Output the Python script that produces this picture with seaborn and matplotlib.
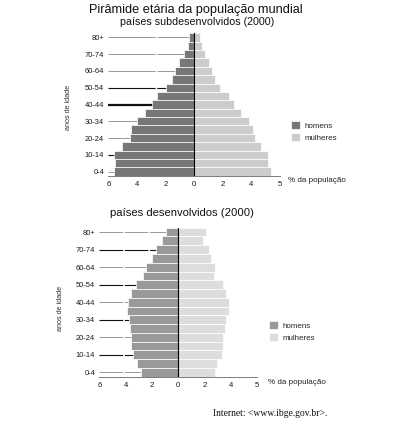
import matplotlib
matplotlib.use("Agg")
import matplotlib.pyplot as plt
import seaborn as sns
import pandas as pd

# ---------------- data ----------------
faixas = ["0-4", "5-9", "10-14", "15-19", "20-24", "25-29", "30-34", "35-39",
          "40-44", "45-49", "50-54", "55-59", "60-64", "65-69", "70-74", "75-79", "80+"]

# países subdesenvolvidos (2000), % da população
sub_homens = [5.59, 5.50, 5.57, 5.01, 4.50, 4.38, 3.96, 3.40, 2.91, 2.56,
              1.93, 1.56, 1.31, 1.05, 0.68, 0.40, 0.33]
sub_mulheres = [5.36, 5.17, 5.17, 4.69, 4.27, 4.13, 3.85, 3.29, 2.77, 2.45,
                1.82, 1.49, 1.26, 1.07, 0.79, 0.58, 0.42]

# países desenvolvidos (2000), % da população
des_homens = [2.84, 3.14, 3.44, 3.59, 3.59, 3.65, 3.75, 3.90, 3.82, 3.62,
              3.24, 2.66, 2.46, 2.03, 1.70, 1.24, 0.94]
des_mulheres = [2.76, 2.94, 3.32, 3.39, 3.39, 3.54, 3.62, 3.85, 3.83, 3.63,
                3.37, 2.71, 2.79, 2.46, 2.36, 1.85, 2.13]

sexos = ["homens", "mulheres"]
x_ticks = [-6, -4, -2, 0, 2, 4, 6]
x_ticklabels = ["6", "4", "2", "0", "2", "4", "5"]
faixas_rotuladas = ["80+", "70-74", "60-64", "50-54", "40-44", "30-34", "20-24", "10-14", "0-4"]

titulo = "Pirâmide etária da população mundial"
sub1 = "países subdesenvolvidos (2000)"
sub2 = "países desenvolvidos (2000)"
fonte = "Internet: <www.ibge.gov.br>."

# ---------------- style ----------------
sns.set_style("white")
plt.rcParams["font.family"] = ["Liberation Sans", "DejaVu Sans"]
plt.rcParams["lines.scale_dashes"] = False

W, H = 397, 429
fig = plt.figure(figsize=(W / 100, H / 100), dpi=100)


def px_axes(x0, y0, x1, y1):
    return fig.add_axes([x0 / W, 1 - y1 / H, (x1 - x0) / W, (y1 - y0) / H])


def pyramid(ax, homens, mulheres, cores, grid_cores, grid_lw, dash):
    df = pd.DataFrame({
        "idade": faixas * 2,
        "sexo": ["homens"] * len(faixas) + ["mulheres"] * len(faixas),
        "valor": [-v for v in homens] + list(mulheres),
    })
    order = faixas[::-1]
    sns.barplot(data=df, x="valor", y="idade", hue="sexo", order=order,
                hue_order=sexos, palette=cores, dodge=False, width=1.0,
                edgecolor="white", linewidth=0.5, errorbar=None, ax=ax,
                zorder=2)
    ax.set_ylim(len(order) - 0.5, -0.5)
    ax.set_xlim(-6, 6)
    pos = [order.index(f) for f in faixas_rotuladas]
    ax.hlines(pos, -6, 0, colors=grid_cores, linewidths=grid_lw,
              linestyles=[dash] * len(pos), zorder=1)
    ax.axvline(0, color="black", lw=0.8, zorder=3)
    ax.set_yticks(pos)
    ax.set_yticklabels(faixas_rotuladas, fontsize=5.4, color="#1a1a1a")
    ax.set_xticks(x_ticks)
    ax.set_xticklabels(x_ticklabels, fontsize=5.6, color="#1a1a1a")
    ax.tick_params(axis="y", length=0, pad=3)
    ax.tick_params(axis="x", length=2, width=0.5, color="#444444", pad=1.5)
    for s in ["top", "right", "left"]:
        ax.spines[s].set_visible(False)
    ax.spines["bottom"].set_color("#666666")
    ax.spines["bottom"].set_linewidth(0.6)
    ax.set_xlabel("")
    ax.set_ylabel("")
    ax.patch.set_alpha(0)
    leg = ax.get_legend()
    handles = leg.legend_handles
    leg.remove()
    return handles


# ---------------- top pyramid ----------------
ax1 = px_axes(108.3, 33.3, 279.7, 175.7)
g1 = ["#888888", "#888888", "#888888", "#111111", "#111111",
      "#888888", "#888888", "#111111", "#888888"]
w1 = [0.6, 0.6, 0.6, 0.8, 1.6, 0.6, 0.6, 0.8, 0.6]
h1 = pyramid(ax1, sub_homens, sub_mulheres, ["#777777", "#cccccc"], g1, w1,
             (0, (34, 1.2)))

# ---------------- bottom pyramid ----------------
ax2 = px_axes(99.3, 227.7, 257.3, 376.7)
g2 = ["#888888", "#111111", "#888888", "#111111", "#888888",
      "#111111", "#888888", "#111111", "#888888"]
w2 = [0.6, 0.8, 0.6, 0.8, 0.6, 0.8, 0.6, 0.8, 0.6]
h2 = pyramid(ax2, des_homens, des_mulheres, ["#999999", "#dddddd"], g2, w2,
             (0, (17, 1.2)))

# legends
for handles, (lx, ly) in [(h1, (291, 121)), (h2, (269, 321))]:
    fig.legend(handles, sexos, loc="upper left",
               bbox_to_anchor=(lx / W, 1 - ly / H), frameon=False,
               fontsize=5.8, handlelength=1.1, handleheight=1.1,
               handletextpad=0.55, labelspacing=0.42, borderpad=0,
               borderaxespad=0)

# texts
fig.text(196 / W, 1 - 10 / H, titulo, ha="center", va="center", fontsize=9.2,
         color="#111111")
fig.text(197 / W, 1 - 22 / H, sub1, ha="center", va="center", fontsize=7.7,
         color="#111111")
fig.text(182 / W, 1 - 213 / H, sub2, ha="center", va="center", fontsize=8.1,
         color="#111111")
fig.text(68 / W, 1 - 107 / H, "anos de idade", ha="center", va="center",
         rotation=90, fontsize=5.2, color="#333333")
fig.text(60 / W, 1 - 308 / H, "anos de idade", ha="center", va="center",
         rotation=90, fontsize=5.2, color="#333333")
fig.text(288 / W, 1 - 180 / H, "% da população", ha="left", va="center",
         fontsize=5.8, color="#222222")
fig.text(268 / W, 1 - 383 / H, "% da população", ha="left", va="center",
         fontsize=5.8, color="#222222")
fig.text(270.5 / W, 1 - 413 / H, fonte, ha="center", va="center", fontsize=6.9,
         family=["Liberation Serif", "DejaVu Serif"], color="#111111")

fig.savefig("out.png", dpi=100)
